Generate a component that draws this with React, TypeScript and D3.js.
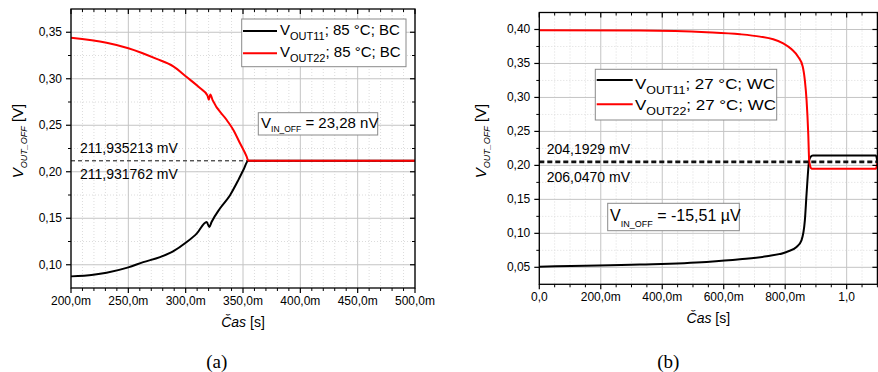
import React from "react";
import * as d3 from "d3";

// ---------- Data: panel (a) ----------
const tA11 = [0.2, 0.2195, 0.231, 0.25, 0.263, 0.2776, 0.289, 0.3009, 0.3096, 0.3183, 0.3206, 0.3226, 0.3299, 0.3387, 0.3459, 0.3503, 0.3546, 0.5];
const vA11 = [0.0875, 0.0893, 0.0915, 0.0972, 0.1028, 0.1082, 0.1144, 0.1244, 0.1335, 0.146, 0.1406, 0.146, 0.1605, 0.1748, 0.191, 0.2018, 0.2119, 0.21193];
const tA22 = [0.2, 0.231, 0.25, 0.2747, 0.2892, 0.3009, 0.3125, 0.319, 0.3202, 0.3215, 0.3235, 0.3358, 0.3416, 0.3474, 0.3532, 0.3546, 0.5];
const vA22 = [0.344, 0.3386, 0.3328, 0.3213, 0.3133, 0.3018, 0.29, 0.282, 0.2775, 0.283, 0.277, 0.2557, 0.245, 0.2306, 0.2162, 0.2119, 0.21194];
const refA = [0.211935213, 0.211931762];
const xTicksA = [0.2, 0.25, 0.3, 0.35, 0.4, 0.45, 0.5];
const xTickLabelsA = ["200,0m", "250,0m", "300,0m", "350,0m", "400,0m", "450,0m", "500,0m"];
const yTicksA = [0.1, 0.15, 0.2, 0.25, 0.3, 0.35];
const yTickLabelsA = ["0,10", "0,15", "0,20", "0,25", "0,30", "0,35"];

// ---------- Data: panel (b) ----------
const tB11 = [0, 0.3275, 0.544, 0.653, 0.7395, 0.8046, 0.837, 0.853, 0.864, 0.8696, 0.878, 0.882, 0.89, 1.095, 1.1];
const vB11 = [0.051, 0.054, 0.0579, 0.0618, 0.0662, 0.0726, 0.0799, 0.0897, 0.119, 0.1584, 0.2074, 0.2122, 0.2147, 0.2147, 0.2045];
const tB22 = [0, 0.3275, 0.544, 0.653, 0.718, 0.761, 0.7935, 0.821, 0.842, 0.857, 0.864, 0.8696, 0.875, 0.878, 0.882, 0.886, 1.095, 1.1];
const vB22 = [0.399, 0.3985, 0.396, 0.393, 0.3895, 0.3856, 0.3797, 0.3709, 0.36, 0.3456, 0.325, 0.2956, 0.2466, 0.2074, 0.198, 0.1951, 0.1951, 0.2045];
const refB = [0.2041929, 0.206047];
const xTicksB = [0, 0.2, 0.4, 0.6, 0.8, 1.0];
const xTickLabelsB = ["0,0", "200,0m", "400,0m", "600,0m", "800,0m", "1,0"];
const yTicksB = [0.05, 0.1, 0.15, 0.2, 0.25, 0.3, 0.35, 0.4];
const yTickLabelsB = ["0,05", "0,10", "0,15", "0,20", "0,25", "0,30", "0,35", "0,40"];

const FONT = "'Liberation Sans', Arial, sans-serif";

type PanelProps = {
  x0: number; x1: number; y0: number; y1: number;
  xDomain: [number, number]; yDomain: [number, number];
  xTicks: number[]; xLabels: string[]; xMinor: number;
  yTicks: number[]; yLabels: string[]; yMinor: number;
  series: { t: number[]; v: number[]; color: string }[];
  refs: number[]; refColor: string; refWidth: number; refDash: string; refOnTop: boolean;
  children?: React.ReactNode;
  yLabelX: number;
};

function Panel(p: PanelProps) {
  const xs = d3.scaleLinear().domain(p.xDomain).range([p.x0, p.x1]);
  const ys = d3.scaleLinear().domain(p.yDomain).range([p.y1, p.y0]);
  const eps = 1e-9;
  const xMinorTicks = d3.range(p.xDomain[0], p.xDomain[1] + eps, p.xMinor).filter(v => !p.xTicks.some(m => Math.abs(m - v) < 1e-6));
  const yMinorTicks = d3.range(p.yDomain[0], p.yDomain[1] + eps, p.yMinor).filter(v => !p.yTicks.some(m => Math.abs(m - v) < 1e-6) && v > p.yDomain[0] + 1e-6 && v < p.yDomain[1] - 1e-6);
  const mk = (s: { t: number[]; v: number[] }) =>
    d3.line<[number, number]>().x(d => xs(d[0])).y(d => ys(d[1])).curve(d3.curveMonotoneX)(s.t.map((t, i) => [t, s.v[i]] as [number, number])) || "";
  const refLines = p.refs.map((r, i) => (
    <line key={"r" + i} x1={p.x0} x2={p.x1} y1={ys(r)} y2={ys(r)} stroke={p.refColor} strokeWidth={p.refWidth} strokeDasharray={p.refDash} />
  ));
  return (
    <g>
      {xMinorTicks.map((v, i) => (
        <line key={"xmg" + i} x1={xs(v)} x2={xs(v)} y1={p.y0} y2={p.y1} stroke="#dcdcdc" strokeWidth={1} strokeDasharray="1,2" />
      ))}
      {yMinorTicks.map((v, i) => (
        <line key={"ymg" + i} x1={p.x0} x2={p.x1} y1={ys(v)} y2={ys(v)} stroke="#dcdcdc" strokeWidth={1} strokeDasharray="1,2" />
      ))}
      {p.xTicks.map((v, i) => (
        <line key={"xg" + i} x1={xs(v)} x2={xs(v)} y1={p.y0} y2={p.y1} stroke="#c4c4c4" strokeWidth={1} />
      ))}
      {p.yTicks.map((v, i) => (
        <line key={"yg" + i} x1={p.x0} x2={p.x1} y1={ys(v)} y2={ys(v)} stroke="#c4c4c4" strokeWidth={1} />
      ))}
      {!p.refOnTop && refLines}
      {p.series.map((s, i) => (
        <path key={"s" + i} d={mk(s)} fill="none" stroke={s.color} strokeWidth={2} strokeLinejoin="round" />
      ))}
      {p.refOnTop && refLines}
      <rect x={p.x0} y={p.y0} width={p.x1 - p.x0} height={p.y1 - p.y0} fill="none" stroke="#000" strokeWidth={1.3} />
      {p.xTicks.map((v, i) => (
        <g key={"xt" + i}>
          <line x1={xs(v)} x2={xs(v)} y1={p.y1} y2={p.y1 + 5} stroke="#000" strokeWidth={1.2} />
          <line x1={xs(v)} x2={xs(v)} y1={p.y0} y2={p.y0 + 5} stroke="#000" strokeWidth={1.2} />
          <text x={xs(v)} y={p.y1 + 17} textAnchor="middle" fontSize={12} fontFamily={FONT} fill="#000">{p.xLabels[i]}</text>
        </g>
      ))}
      {xMinorTicks.map((v, i) => (
        <g key={"xmt" + i}>
          <line x1={xs(v)} x2={xs(v)} y1={p.y1} y2={p.y1 + 3} stroke="#000" strokeWidth={1} />
          <line x1={xs(v)} x2={xs(v)} y1={p.y0} y2={p.y0 + 3} stroke="#000" strokeWidth={1} />
        </g>
      ))}
      {p.yTicks.map((v, i) => (
        <g key={"yt" + i}>
          <line x1={p.x0 - 5} x2={p.x0} y1={ys(v)} y2={ys(v)} stroke="#000" strokeWidth={1.2} />
          <line x1={p.x1 - 5} x2={p.x1} y1={ys(v)} y2={ys(v)} stroke="#000" strokeWidth={1.2} />
          <text x={p.x0 - 9} y={ys(v) + 4} textAnchor="end" fontSize={12} fontFamily={FONT} fill="#000">{p.yLabels[i]}</text>
        </g>
      ))}
      {yMinorTicks.map((v, i) => (
        <g key={"ymt" + i}>
          <line x1={p.x0 - 3} x2={p.x0} y1={ys(v)} y2={ys(v)} stroke="#000" strokeWidth={1} />
          <line x1={p.x1 - 3} x2={p.x1} y1={ys(v)} y2={ys(v)} stroke="#000" strokeWidth={1} />
        </g>
      ))}
      <text x={(p.x0 + p.x1) / 2} y={p.y1 + 39} textAnchor="middle" fontSize={14} fontFamily={FONT} fill="#000">
        <tspan fontStyle="italic">Čas</tspan> [s]
      </text>
      <text transform={`translate(${p.yLabelX},141) rotate(-90)`} textAnchor="middle" fontSize={15} fontFamily={FONT} fill="#000">
        <tspan fontStyle="italic">V</tspan>
        <tspan fontStyle="italic" fontSize={9} dy={4}>OUT_OFF</tspan>
        <tspan dy={-4}> [V]</tspan>
      </text>
      {p.children}
    </g>
  );
}

function LegendRow({ x, y, lx0, lx1, ly, color, sub, rest, sx }: { x: number; y: number; lx0: number; lx1: number; ly: number; color: string; sub: string; rest: string; sx: number }) {
  return (
    <g>
      <line x1={lx0} x2={lx1} y1={ly} y2={ly} stroke={color} strokeWidth={2} />
      <g transform={`translate(${x},${y}) scale(${sx},1)`}>
        <text x={0} y={0} fontSize={15} fontFamily={FONT} fill="#000">
          <tspan>V</tspan>
          <tspan fontSize={11} dy={5}>{sub}</tspan>
          <tspan dy={-5}>{rest}</tspan>
        </text>
      </g>
    </g>
  );
}

export default function App() {
  return (
    <div style={{ position: "fixed", left: 0, top: 0 }}>
      <svg width={878} height={372} style={{ display: "block", background: "#fff" }}>
        <rect x={0} y={0} width={878} height={372} fill="#fff" />
        <Panel
          x0={71} x1={415} y0={9} y1={288}
          xDomain={[0.2, 0.5]} yDomain={[0.075, 0.375]}
          xTicks={xTicksA} xLabels={xTickLabelsA} xMinor={0.01}
          yTicks={yTicksA} yLabels={yTickLabelsA} yMinor={0.025}
          series={[{ t: tA11, v: vA11, color: "#000" }, { t: tA22, v: vA22, color: "#ff0000" }]}
          refs={refA} refColor="#555" refWidth={1.2} refDash="4,3" refOnTop={false}
          yLabelX={23}
        >
          <rect x={241.7} y={19} width={164.3} height={47.7} fill="#fff" stroke="#8a8a8a" strokeWidth={1} />
          <LegendRow x={280} y={35} lx0={243} lx1={277} ly={31} color="#000" sub="OUT11" rest="; 85 °C; BC" sx={1} />
          <LegendRow x={280} y={57} lx0={243} lx1={277} ly={53.3} color="#ff0000" sub="OUT22" rest="; 85 °C; BC" sx={1} />
          <rect x={258.3} y={112.7} width={119.4} height={22.3} fill="#fff" stroke="#8a8a8a" strokeWidth={1} />
          <text x={261} y={128} fontSize={15} fontFamily={FONT} fill="#000">
            <tspan>V</tspan>
            <tspan fontSize={8.5} dy={4}>IN_OFF</tspan>
            <tspan dy={-4}> = 23,28 nV</tspan>
          </text>
          <text x={80} y={152.5} fontSize={14} fontFamily={FONT} fill="#000">211,935213 mV</text>
          <text x={80} y={179} fontSize={14} fontFamily={FONT} fill="#000">211,931762 mV</text>
        </Panel>
        <Panel
          x0={539.3} x1={877.4} y0={12.5} y1={284.3}
          xDomain={[0, 1.1]} yDomain={[0.025, 0.425]}
          xTicks={xTicksB} xLabels={xTickLabelsB} xMinor={0.05}
          yTicks={yTicksB} yLabels={yTickLabelsB} yMinor={0.025}
          series={[{ t: tB11, v: vB11, color: "#000" }, { t: tB22, v: vB22, color: "#ff0000" }]}
          refs={refB} refColor="#111" refWidth={1.6} refDash="5,3" refOnTop={true}
          yLabelX={486}
        >
          <rect x={595.3} y={69.3} width={181.4} height={50.7} fill="#fff" stroke="#8a8a8a" strokeWidth={1} />
          <LegendRow x={635} y={89} lx0={596.7} lx1={632.7} ly={80} color="#000" sub="OUT11" rest="; 27 °C; WC" sx={1.13} />
          <LegendRow x={635} y={110} lx0={596.7} lx1={632.7} ly={104.3} color="#ff0000" sub="OUT22" rest="; 27 °C; WC" sx={1.13} />
          <rect x={607.7} y={203.3} width={131.6} height={27.4} fill="#fff" stroke="#8a8a8a" strokeWidth={1} />
          <text x={610} y={221} fontSize={16} fontFamily={FONT} fill="#000">
            <tspan>V</tspan>
            <tspan fontSize={9} dy={6}>IN_OFF</tspan>
            <tspan dy={-6}> = -15,51 µV</tspan>
          </text>
          <text x={546.7} y={154} fontSize={14} fontFamily={FONT} fill="#000">204,1929 mV</text>
          <text x={546.7} y={181.5} fontSize={14} fontFamily={FONT} fill="#000">206,0470 mV</text>
        </Panel>
        <text x={216.7} y={368} textAnchor="middle" fontSize={19} fontFamily="'Liberation Serif', 'DejaVu Serif', serif" fill="#000">(a)</text>
        <text x={668.3} y={368} textAnchor="middle" fontSize={19} fontFamily="'Liberation Serif', 'DejaVu Serif', serif" fill="#000">(b)</text>
      </svg>
    </div>
  );
}
